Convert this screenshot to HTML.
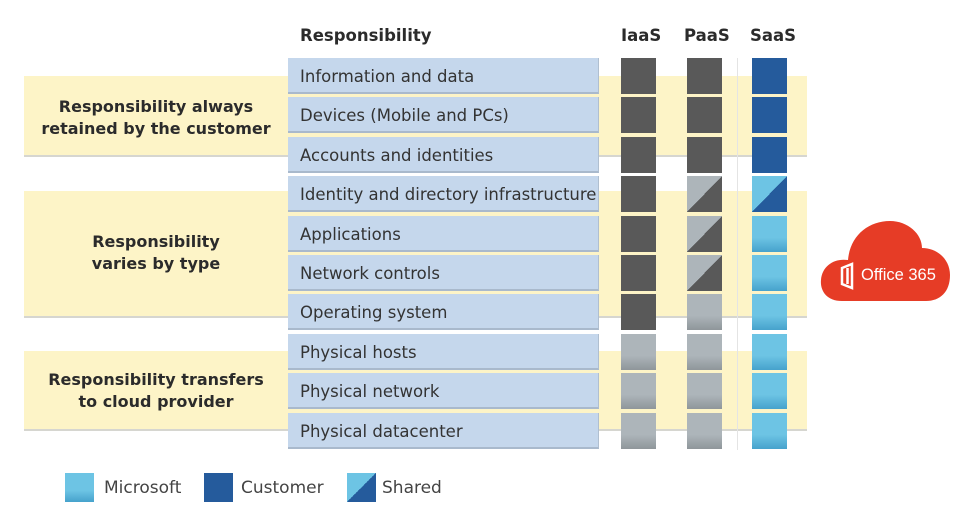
<!DOCTYPE html>
<html><head><meta charset="utf-8"><style>
body{margin:0;width:974px;height:528px;background:#fff;position:relative;overflow:hidden;font-family:"DejaVu Sans","Liberation Sans",sans-serif;}
div{position:absolute;box-sizing:border-box;}
.band{left:24px;width:783px;background:#fdf4c7;border-bottom:2px solid #d6d6d0;}
.bt{left:24px;width:264px;text-align:center;font-weight:bold;font-size:16px;color:#2b2b2b;line-height:22px;}
.lab{left:288px;width:311px;height:36px;background:#c5d7ec;border-bottom:2px solid #a9b9cc;border-right:1px solid #b0bfd0;font-size:16.5px;color:#333;line-height:38px;padding-left:12px;}
.c{width:35px;height:36px;}
.d{background:#595959;}
.g{background:linear-gradient(#adb5ba 60%,#8f969a);}
.h{background:linear-gradient(to bottom right,#adb5ba 50%,#595959 50%);}
.b{background:#255b9c;}
.s{background:linear-gradient(to bottom right,#6dc4e4 50%,#255b9c 50%);}
.l{background:linear-gradient(#6dc4e4 60%,#46a2cc);}
.hd{top:26px;font-weight:bold;font-size:16.5px;color:#2b2b2b;}
.lg{top:478px;font-size:17px;color:#444;}
</style></head><body>
<div class="band" style="top:76px;height:81px"></div>
<div class="band" style="top:191px;height:127px"></div>
<div class="band" style="top:351px;height:80px"></div>
<div style="left:737px;top:58px;width:1px;height:392px;background:#e4e4e4"></div>
<div class="bt" style="top:96px">Responsibility always<br>retained by the customer</div>
<div class="bt" style="top:231px">Responsibility<br>varies by type</div>
<div class="bt" style="top:369px">Responsibility transfers<br>to cloud provider</div>
<div class="hd" style="left:300px">Responsibility</div>
<div class="hd" style="left:621px">IaaS</div>
<div class="hd" style="left:684px">PaaS</div>
<div class="hd" style="left:750px">SaaS</div>

<div class="lab" style="top:58px">Information and data</div>
<div class="lab" style="top:97px">Devices (Mobile and PCs)</div>
<div class="lab" style="top:137px">Accounts and identities</div>
<div class="lab" style="top:176px">Identity and directory infrastructure</div>
<div class="lab" style="top:216px">Applications</div>
<div class="lab" style="top:255px">Network controls</div>
<div class="lab" style="top:294px">Operating system</div>
<div class="lab" style="top:334px">Physical hosts</div>
<div class="lab" style="top:373px">Physical network</div>
<div class="lab" style="top:413px">Physical datacenter</div>

<div class="c d" style="left:621px;top:58px"></div><div class="c d" style="left:687px;top:58px"></div><div class="c b" style="left:752px;top:58px"></div>
<div class="c d" style="left:621px;top:97px"></div><div class="c d" style="left:687px;top:97px"></div><div class="c b" style="left:752px;top:97px"></div>
<div class="c d" style="left:621px;top:137px"></div><div class="c d" style="left:687px;top:137px"></div><div class="c b" style="left:752px;top:137px"></div>
<div class="c d" style="left:621px;top:176px"></div><div class="c h" style="left:687px;top:176px"></div><div class="c s" style="left:752px;top:176px"></div>
<div class="c d" style="left:621px;top:216px"></div><div class="c h" style="left:687px;top:216px"></div><div class="c l" style="left:752px;top:216px"></div>
<div class="c d" style="left:621px;top:255px"></div><div class="c h" style="left:687px;top:255px"></div><div class="c l" style="left:752px;top:255px"></div>
<div class="c d" style="left:621px;top:294px"></div><div class="c g" style="left:687px;top:294px"></div><div class="c l" style="left:752px;top:294px"></div>
<div class="c g" style="left:621px;top:334px"></div><div class="c g" style="left:687px;top:334px"></div><div class="c l" style="left:752px;top:334px"></div>
<div class="c g" style="left:621px;top:373px"></div><div class="c g" style="left:687px;top:373px"></div><div class="c l" style="left:752px;top:373px"></div>
<div class="c g" style="left:621px;top:413px"></div><div class="c g" style="left:687px;top:413px"></div><div class="c l" style="left:752px;top:413px"></div>

<svg style="position:absolute;left:818px;top:218px" width="136" height="86" viewBox="0 0 136 86">
<path d="M24 83 C8 83 2 72 3 62 C4 48 16 40 30 42 C32 18 50 3 72 3 C90 3 104 16 104 30 C120 30 132 42 132 57 C132 74 122 83 108 83 Z" fill="#e63c26"/>
<path d="M24 50 L34 46 L34 70 L24 66 Z M29.5 50 L29.5 66" fill="none" stroke="#fff" stroke-width="2.5"/>
<text x="43" y="62" font-family="Liberation Sans,sans-serif" font-size="16.5" fill="#fff">Office 365</text>
</svg>

<div class="c l" style="left:65px;top:473px;width:29px;height:29px"></div>
<div class="lg" style="left:104px">Microsoft</div>
<div class="c b" style="left:204px;top:473px;width:29px;height:29px"></div>
<div class="lg" style="left:241px">Customer</div>
<div class="c s" style="left:347px;top:473px;width:29px;height:29px"></div>
<div class="lg" style="left:382px">Shared</div>
</body></html>
